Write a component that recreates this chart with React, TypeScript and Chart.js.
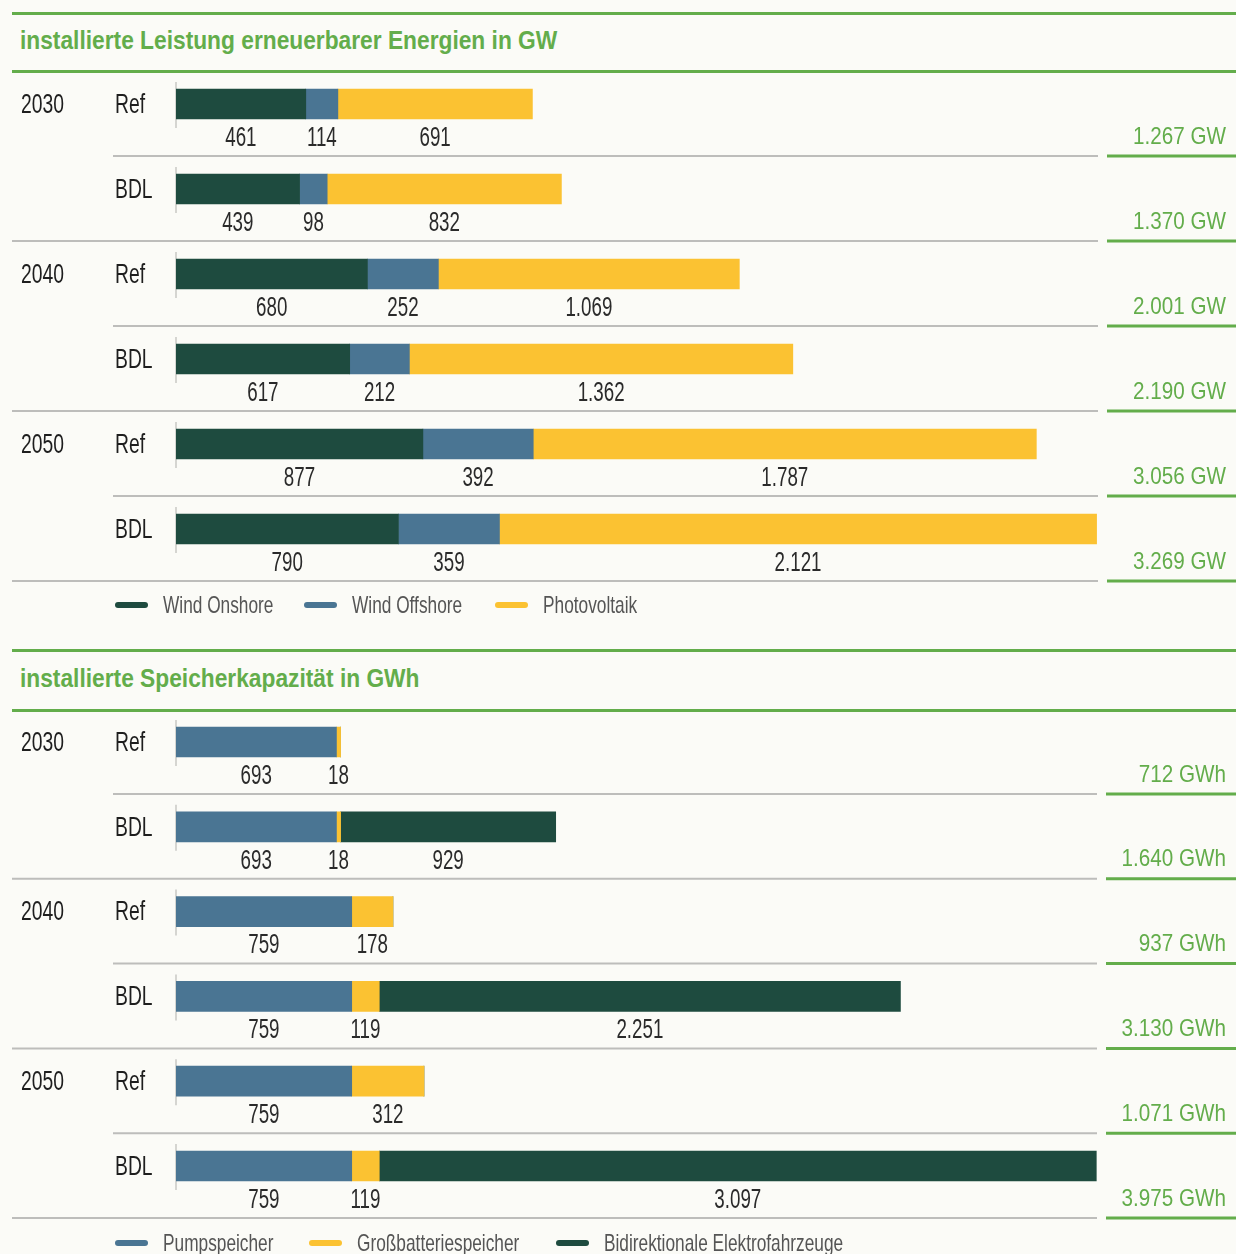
import React, { useEffect, useRef } from 'react';
import { Chart, registerables } from 'chart.js';

Chart.register(...registerables);

// ---------- data ----------
const years = ['2030', '2040', '2050'];
const scenarios = ['Ref', 'BDL'];
const rowLabels = ['2030 Ref', '2030 BDL', '2040 Ref', '2040 BDL', '2050 Ref', '2050 BDL'];

const windOnshore = [461, 439, 680, 617, 877, 790];
const windOffshore = [114, 98, 252, 212, 392, 359];
const photovoltaik = [691, 832, 1069, 1362, 1787, 2121];
const powerTotals = [1267, 1370, 2001, 2190, 3056, 3269];

const pumpspeicher = [693, 693, 759, 759, 759, 759];
const grossbatterie = [18, 18, 178, 119, 312, 119];
const elektrofahrzeuge = [0, 929, 0, 2251, 0, 3097];
const storageTotals = [712, 1640, 937, 3130, 1071, 3975];

const titlePower = 'installierte Leistung erneuerbarer Energien in GW';
const titleStorage = 'installierte Speicherkapazität in GWh';

// ---------- style ----------
const C = {
  darkGreen: '#1e4b3f',
  blue: '#4a7593',
  yellow: '#fbc232',
  green: '#63ad4b',
  text: '#1e1e1e',
  gray: '#bdbdbb',
  legendText: '#555555',
  bg: '#fbfbf7',
};
const FONT = '"Liberation Sans", Arial, sans-serif';

function fmt(v: number): string {
  return String(v).replace(/\B(?=(\d{3})+(?!\d))/g, '.');
}

function drawText(ctx: any, text: string, x: number, y: number, align: string, sx: number) {
  ctx.save();
  ctx.translate(x, y);
  ctx.scale(sx, 1);
  ctx.textAlign = align;
  ctx.fillText(text, 0, 0);
  ctx.restore();
}

function rowsPlugin(totals: number[], unit: string) {
  return {
    id: 'rows',
    beforeDatasetsDraw(chart: any) {
      const ctx = chart.ctx;
      const ys = chart.scales.y;
      const left = chart.chartArea.left;
      const right = chart.chartArea.right;
      ctx.save();
      for (let i = 0; i < rowLabels.length; i++) {
        const cy = ys.getPixelForValue(i);
        ctx.strokeStyle = '#c8c8c4';
        ctx.lineWidth = 1.5;
        ctx.beginPath();
        ctx.moveTo(left, cy - 22);
        ctx.lineTo(left, cy + 24);
        ctx.stroke();
        const sy = cy + 52;
        ctx.strokeStyle = C.gray;
        ctx.lineWidth = 2;
        ctx.beginPath();
        ctx.moveTo(i % 2 === 1 ? 12 : 113, sy);
        ctx.lineTo(right, sy);
        ctx.stroke();
        ctx.strokeStyle = C.green;
        ctx.lineWidth = 3;
        ctx.beginPath();
        ctx.moveTo(right + 9, sy);
        ctx.lineTo(1236, sy);
        ctx.stroke();
      }
      ctx.restore();
    },
    afterDatasetsDraw(chart: any) {
      const ctx = chart.ctx;
      const ys = chart.scales.y;
      ctx.save();
      ctx.textBaseline = 'middle';
      for (let i = 0; i < rowLabels.length; i++) {
        const cy = ys.getPixelForValue(i);
        ctx.font = `28px ${FONT}`;
        ctx.fillStyle = C.text;
        if (i % 2 === 0) drawText(ctx, years[i / 2], 21, cy + 1, 'left', 0.69);
        drawText(ctx, scenarios[i % 2], 115, cy + 1, 'left', 0.69);
        chart.data.datasets.forEach((ds: any, d: number) => {
          const v = ds.data[i];
          if (!v) return;
          const el = chart.getDatasetMeta(d).data[i];
          const mid = (el.x + el.base) / 2;
          ctx.fillStyle = '#2a2a2a';
          drawText(ctx, fmt(v), mid, cy + 34, 'center', 0.67);
        });
        ctx.font = `24px ${FONT}`;
        ctx.fillStyle = C.green;
        drawText(ctx, `${fmt(totals[i])} ${unit}`, 1226, cy + 33, 'right', 0.86);
      }
      ctx.restore();
    },
  };
}

type Series = { label: string; data: number[]; color: string };

function Panel(props: { top: number; height: number; series: Series[]; totals: number[]; unit: string; max: number; pad: any }) {
  const ref = useRef<HTMLCanvasElement>(null);
  useEffect(() => {
    const chart = new Chart(ref.current as HTMLCanvasElement, {
      type: 'bar',
      data: {
        labels: rowLabels,
        datasets: props.series.map((s) => ({
          label: s.label,
          data: s.data,
          backgroundColor: s.color,
          barThickness: 30,
          borderWidth: 0,
        })),
      },
      options: {
        indexAxis: 'y',
        responsive: false,
        animation: false,
        layout: { padding: props.pad },
        scales: {
          x: { stacked: true, min: 0, max: props.max, display: false },
          y: { stacked: true, display: false },
        },
        plugins: { legend: { display: false }, tooltip: { enabled: false } },
      },
      plugins: [rowsPlugin(props.totals, props.unit)],
    } as any);
    return () => chart.destroy();
  }, []);
  return (
    <canvas
      ref={ref}
      width={1236}
      height={props.height}
      style={{ position: 'absolute', left: 0, top: props.top, display: 'block' }}
    />
  );
}

function GreenLine({ y }: { y: number }) {
  return <div style={{ position: 'absolute', left: 12, top: y - 1.5, width: 1224, height: 3, background: C.green }} />;
}

function Title({ y, text }: { y: number; text: string }) {
  return (
    <div
      style={{
        position: 'absolute',
        left: 20,
        top: y - 16,
        height: 32,
        lineHeight: '32px',
        font: `bold 25px ${FONT}`,
        color: C.green,
        whiteSpace: 'nowrap',
        transform: 'scaleX(0.91)',
        transformOrigin: 'left center',
      }}
    >
      {text}
    </div>
  );
}

function Legend({ y, items }: { y: number; items: { label: string; color: string; x: number }[] }) {
  return (
    <>
      {items.map((it) => (
        <div key={it.label}>
          <div
            style={{
              position: 'absolute',
              left: it.x,
              top: y - 3,
              width: 33,
              height: 6,
              borderRadius: 3,
              background: it.color,
            }}
          />
          <div
            style={{
              position: 'absolute',
              left: it.x + 48,
              top: y - 14,
              height: 28,
              lineHeight: '28px',
              font: `24px ${FONT}`,
              color: C.legendText,
              whiteSpace: 'nowrap',
              transform: 'scaleX(0.72)',
              transformOrigin: 'left center',
            }}
          >
            {it.label}
          </div>
        </div>
      ))}
    </>
  );
}

export default function App() {
  const powerSeries: Series[] = [
    { label: 'Wind Onshore', data: windOnshore, color: C.darkGreen },
    { label: 'Wind Offshore', data: windOffshore, color: C.blue },
    { label: 'Photovoltaik', data: photovoltaik, color: C.yellow },
  ];
  const storageSeries: Series[] = [
    { label: 'Pumpspeicher', data: pumpspeicher, color: C.blue },
    { label: 'Großbatteriespeicher', data: grossbatterie, color: C.yellow },
    { label: 'Bidirektionale Elektrofahrzeuge', data: elektrofahrzeuge, color: C.darkGreen },
  ];
  return (
    <div style={{ position: 'absolute', left: 0, top: 0, width: 1236, height: 1254, background: C.bg, overflow: 'hidden' }}>
      <GreenLine y={13} />
      <Title y={42} text={titlePower} />
      <GreenLine y={71} />
      <Panel
        top={0}
        height={640}
        series={powerSeries}
        totals={powerTotals}
        unit="GW"
        max={3275}
        pad={{ left: 176, right: 138, top: 61.5, bottom: 68.5 }}
      />
      <Legend
        y={605}
        items={[
          { label: 'Wind Onshore', color: C.darkGreen, x: 115 },
          { label: 'Wind Offshore', color: C.blue, x: 304 },
          { label: 'Photovoltaik', color: C.yellow, x: 495 },
        ]}
      />
      <GreenLine y={650} />
      <Title y={680} text={titleStorage} />
      <GreenLine y={710} />
      <Panel
        top={640}
        height={614}
        series={storageSeries}
        totals={storageTotals}
        unit="GWh"
        max={3978}
        pad={{ left: 176, right: 139, top: 59.6, bottom: 45.6 }}
      />
      <Legend
        y={1243}
        items={[
          { label: 'Pumpspeicher', color: C.blue, x: 115 },
          { label: 'Großbatteriespeicher', color: C.yellow, x: 309 },
          { label: 'Bidirektionale Elektrofahrzeuge', color: C.darkGreen, x: 556 },
        ]}
      />
    </div>
  );
}
